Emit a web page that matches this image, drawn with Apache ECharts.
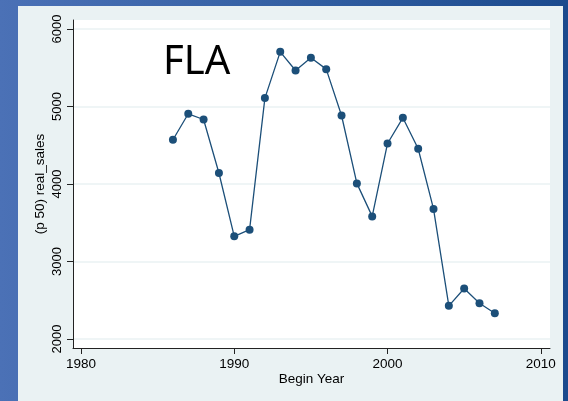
<!DOCTYPE html>
<html>
<head>
<meta charset="utf-8">
<script src="https://cdn.jsdelivr.net/npm/echarts@6/dist/echarts.min.js"></script>
<style>
    html, body { margin: 0; padding: 0; }
    body {
        width: 568px;
        height: 401px;
        overflow: hidden;
        position: relative;
        background: linear-gradient(90deg, #4b71b6 0%, #3460a3 50%, #1b4a8d 100%);
    }
    #chart {
        position: absolute;
        left: 18px;
        top: 6px;
        width: 545px;
        height: 395px;
    }
</style>
</head>
<body>
<div id="chart"></div>
<script>
'use strict';
// data
const years = [1986, 1987, 1988, 1989, 1990, 1991, 1992, 1993, 1994, 1995, 1996,
    1997, 1998, 1999, 2000, 2001, 2002, 2003, 2004, 2005, 2006, 2007];
const realSales = [4571, 4906, 4832, 4142, 3325, 3411, 5108, 5705, 5464, 5628, 5482,
    4884, 4008, 3582, 4523, 4854, 4455, 3678, 2428, 2651, 2462, 2333];
const xTicks = [1980, 1990, 2000, 2010];
const yTicks = [2000, 3000, 4000, 5000, 6000];

function init() {
    const chart = echarts.init(document.getElementById('chart'));
    const axisFont = 'Liberation Sans, Arial, sans-serif';
    const option = {
        backgroundColor: '#eaf2f3',
        animation: false,
        title: {
            text: 'FLA',
            left: 140,
            top: 32,
            textStyle: {
                fontFamily: 'Noto Sans',
                fontSize: 40,
                fontWeight: 'normal',
                color: '#000',
            },
        },
        grid: {
            left: 55,
            top: 14,
            right: 13,
            bottom: 53,
            show: true,
            backgroundColor: '#fff',
            borderWidth: 0,
        },
        xAxis: {
            type: 'value',
            min: 1979.48,
            max: 2010.6,
            name: 'Begin Year',
            nameLocation: 'middle',
            nameGap: 24,
            nameMoveOverlap: false,
            nameTextStyle: { fontFamily: axisFont, fontSize: 13.5, color: '#000' },
            axisLine: { show: true, onZero: false, lineStyle: { color: '#222', width: 1 } },
            axisTick: { show: true, length: 6, customValues: xTicks, lineStyle: { color: '#222' } },
            axisLabel: {
                customValues: xTicks,
                formatter: (v) => String(v),
                margin: 9,
                fontFamily: axisFont,
                fontSize: 13.5,
                color: '#000',
            },
            splitLine: { show: false },
        },
        yAxis: {
            type: 'value',
            min: 1884,
            max: 6116,
            name: '(p 50) real_sales',
            nameLocation: 'middle',
            nameGap: 26,
            nameMoveOverlap: false,
            nameTextStyle: { fontFamily: axisFont, fontSize: 13.5, color: '#000' },
            axisLine: { show: true, onZero: false, lineStyle: { color: '#222', width: 1 } },
            axisTick: { show: true, length: 6, customValues: yTicks, lineStyle: { color: '#222' } },
            axisLabel: {
                customValues: yTicks,
                formatter: (v) => String(v),
                rotate: 90,
                margin: 9,
                fontFamily: axisFont,
                fontSize: 13,
                color: '#000',
            },
            splitLine: { show: true, lineStyle: { color: '#eaf2f3', width: 1.5 } },
        },
        series: [
            {
                type: 'line',
                data: years.map((y, i) => [y, realSales[i]]),
                symbol: 'circle',
                symbolSize: 8,
                itemStyle: { color: '#1c4f79' },
                lineStyle: { color: '#1c4f79', width: 1.3 },
            },
        ],
    };
    chart.setOption(option);
}

init();
</script>
</body>
</html>
